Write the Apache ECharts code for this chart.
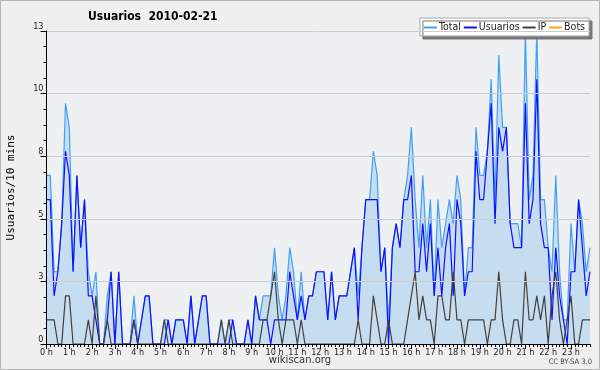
<!DOCTYPE html>
<html>
<head>
<meta charset="utf-8">
<script src="https://cdn.jsdelivr.net/npm/echarts@6/dist/echarts.min.js"></script>
<style>
html, body { margin: 0; padding: 0; background: #efefef; }
#chart { width: 600px; height: 370px; }
</style>
</head>
<body>
<div id="chart"></div>
<script>
// tick labels of the hour axis
const hourLabels = ['0 h', '1 h', '2 h', '3 h', '4 h', '5 h', '6 h', '7 h', '8 h', '9 h', '10 h', '11 h',
  '12 h', '13 h', '14 h', '15 h', '16 h', '17 h', '18 h', '19 h', '20 h', '21 h', '22 h', '23 h']

// one value per 10 minutes, 4 hours per row
const total = [
  7, 7, 3, 3, 5, 10, 9, 3, 7, 4, 6, 3, 2, 3, 0, 0, 2, 3, 0, 3, 0, 0, 0, 2,
  0, 1, 2, 2, 0, 0, 0, 1, 1, 0, 1, 1, 1, 0, 2, 0, 1, 2, 2, 0, 0, 0, 1, 0,
  1, 1, 0, 0, 0, 1, 0, 2, 1, 2, 2, 2, 4, 2, 1, 2, 4, 3, 1, 3, 1, 2, 2, 3,
  3, 3, 1, 3, 1, 2, 2, 2, 3, 4, 2, 4, 6, 6, 8, 7, 3, 4, 1, 4, 5, 4, 6, 7,
  9, 6, 4, 7, 4, 6, 2, 6, 4, 5, 6, 5, 7, 6, 2, 4, 4, 9, 7, 7, 8, 11, 6, 12,
  9, 9, 5, 5, 5, 4, 13, 6, 7, 13, 6, 6, 4, 3, 7, 3, 1, 1, 5, 3, 6, 5, 3, 4
]
const usuarios = [
  6, 6, 2, 3, 5, 8, 7, 3, 7, 4, 6, 2, 2, 1, 0, 0, 1, 3, 0, 3, 0, 0, 0, 1,
  0, 1, 2, 2, 0, 0, 0, 0, 1, 0, 1, 1, 1, 0, 2, 0, 1, 2, 2, 0, 0, 0, 0, 0,
  0, 1, 0, 0, 0, 1, 0, 2, 1, 1, 1, 0, 1, 1, 1, 1, 3, 2, 1, 2, 1, 2, 2, 3,
  3, 3, 1, 3, 1, 2, 2, 2, 3, 4, 1, 4, 6, 6, 6, 6, 3, 4, 0, 4, 5, 4, 6, 6,
  7, 3, 3, 5, 3, 5, 2, 4, 2, 4, 5, 2, 6, 5, 2, 3, 3, 8, 6, 6, 8, 10, 5, 9,
  8, 9, 5, 4, 4, 4, 10, 5, 6, 11, 5, 4, 4, 1, 4, 2, 1, 0, 3, 3, 6, 4, 2, 3
]
const ip = [
  1, 1, 1, 0, 0, 2, 2, 0, 0, 0, 0, 1, 0, 2, 0, 0, 1, 0, 0, 0, 0, 0, 0, 1,
  0, 0, 0, 0, 0, 0, 0, 1, 0, 0, 0, 0, 0, 0, 0, 0, 0, 0, 0, 0, 0, 0, 1, 0,
  1, 0, 0, 0, 0, 0, 0, 0, 0, 1, 1, 2, 3, 1, 0, 1, 1, 1, 0, 1, 0, 0, 0, 0,
  0, 0, 0, 0, 0, 0, 0, 0, 0, 0, 1, 0, 0, 0, 2, 1, 0, 0, 1, 0, 0, 0, 0, 1,
  2, 3, 1, 2, 1, 1, 0, 2, 2, 1, 1, 3, 1, 1, 0, 1, 1, 1, 1, 1, 0, 1, 1, 3,
  1, 0, 0, 1, 1, 0, 3, 1, 1, 2, 1, 2, 0, 2, 3, 1, 0, 1, 2, 0, 0, 1, 1, 1
]
const bots = [
  0, 0, 0, 0, 0, 0, 0, 0, 0, 0, 0, 0, 0, 0, 0, 0, 0, 0, 0, 0, 0, 0, 0, 0,
  0, 0, 0, 0, 0, 0, 0, 0, 0, 0, 0, 0, 0, 0, 0, 0, 0, 0, 0, 0, 0, 0, 0, 0,
  0, 0, 0, 0, 0, 0, 0, 0, 0, 0, 0, 0, 0, 0, 0, 0, 0, 0, 0, 0, 0, 0, 0, 0,
  0, 0, 0, 0, 0, 0, 0, 0, 0, 0, 0, 0, 0, 0, 0, 0, 0, 0, 0, 0, 0, 0, 0, 0,
  0, 0, 0, 0, 0, 0, 0, 0, 0, 0, 0, 0, 0, 0, 0, 0, 0, 0, 0, 0, 0, 0, 0, 0,
  0, 0, 0, 0, 0, 0, 0, 0, 0, 0, 0, 0, 0, 0, 0, 0, 0, 0, 0, 0, 0, 0, 0, 0
]

// 10 minute slots as categories
const slots = []
hourLabels.forEach((h, i) => {
  for (let m = 0; m < 6; m++) slots.push(i + ':' + m + '0')
})

const font = 'DejaVu Sans Condensed'
const chart = echarts.init(document.getElementById('chart'))

const lineSeries = (name, data, color, extra) => Object.assign({
  name,
  type: 'line',
  data,
  symbol: 'none',
  animation: false,
  itemStyle: { color },
  lineStyle: { color, width: 1.2 }
}, extra)

chart.setOption({
  backgroundColor: '#efefef',
  animation: false,
  title: {
    text: 'Usuarios  2010-02-21',
    left: 83,
    top: 6,
    textStyle: { fontFamily: 'DejaVu Sans Condensed', fontWeight: 'bold', fontSize: 12, color: '#000' }
  },
  legend: {
    right: 11,
    top: 18,
    padding: [4, 4, 3, 4],
    itemGap: 3,
    itemWidth: 13,
    itemHeight: 2,
    icon: 'rect',
    backgroundColor: '#fff',
    borderColor: '#aaa',
    borderWidth: 1,
    shadowColor: '#777',
    shadowOffsetX: 3,
    shadowOffsetY: 3,
    shadowBlur: 0,
    textStyle: { fontFamily: font, fontSize: 10.5, color: '#222', padding: [0, 0, 0, -3] },
    data: ['Total', 'Usuarios', 'IP', 'Bots']
  },
  grid: {
    left: 46.5,
    right: 10,
    top: 31,
    bottom: 26,
    outerBoundsMode: 'none',
    show: true,
    backgroundColor: '#eef0f2',
    borderWidth: 0
  },
  xAxis: [
    {
      type: 'category',
      data: slots,
      boundaryGap: false,
      z: 10,
      axisLine: { lineStyle: { color: '#000', width: 1 } },
      axisTick: { interval: 0, length: 3, lineStyle: { color: '#000' } },
      axisLabel: {
        interval: 5,
        margin: 4,
        fontFamily: font,
        fontSize: 9,
        color: '#222',
        formatter: (v, i) => hourLabels[i / 6]
      },
      splitLine: { show: false }
    },
    {
      type: 'category',
      data: slots,
      boundaryGap: false,
      position: 'bottom',
      z: 10,
      axisLine: { show: false },
      axisTick: { interval: 5, length: 5, lineStyle: { color: '#000' } },
      axisLabel: { show: false },
      splitLine: { show: false }
    }
  ],
  yAxis: {
    type: 'value',
    min: 0,
    max: 13,
    interval: 2.6,
    z: 10,
    name: 'Usuarios/10 mins',
    nameLocation: 'middle',
    nameGap: 30,
    nameTextStyle: { fontFamily: 'DejaVu Sans Mono', fontSize: 11, color: '#000' },
    axisLine: { show: true, lineStyle: { color: '#000' } },
    axisTick: { show: true, length: 6, lineStyle: { color: '#000' } },
    minorTick: { show: true, splitNumber: 4, length: 3, lineStyle: { color: '#000' } },
    axisLabel: {
      margin: 3,
      fontFamily: font,
      fontSize: 9,
      color: '#222',
      verticalAlign: 'bottom',
      formatter: v => String(Math.round(v))
    },
    splitLine: { lineStyle: { color: '#cccccc', width: 1 } }
  },
  series: [
    lineSeries('Total', total, '#40a0f8', { areaStyle: { color: '#c6ddf0', opacity: 1 }, z: 2 }),
    lineSeries('Usuarios', usuarios, '#1010ff', { z: 3 }),
    lineSeries('IP', ip, '#404040', { z: 4 }),
    lineSeries('Bots', bots, '#ffa020', { z: 1 })
  ],
  graphic: [
    {
      type: 'rect',
      silent: true,
      shape: { x: 0.5, y: 0.5, width: 599, height: 369 },
      style: { fill: null, stroke: '#b4b4b4', lineWidth: 1 }
    },
    {
      type: 'text',
      left: 'center',
      top: 355,
      style: { text: 'wikiscan.org', fontFamily: 'DejaVu Sans', fontSize: 10, fill: '#333' }
    },
    {
      type: 'text',
      right: 8,
      top: 358,
      style: { text: 'CC BY-SA 3.0', fontFamily: font, fontSize: 7.5, fill: '#444' }
    }
  ]
})
</script>
</body>
</html>
